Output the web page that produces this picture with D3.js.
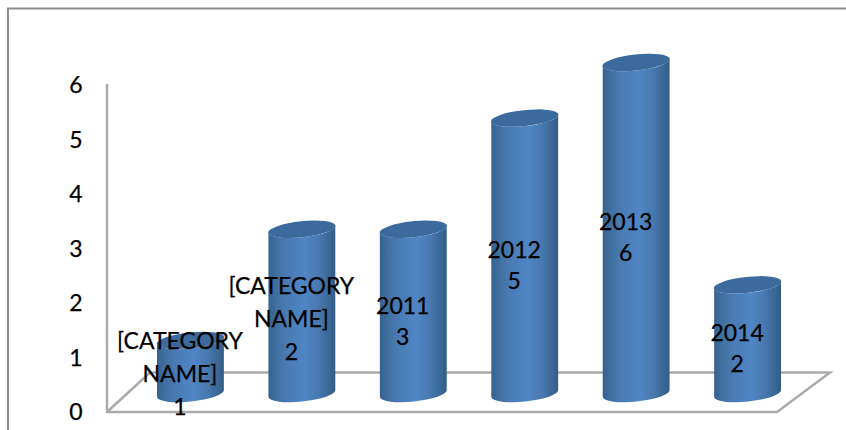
<!DOCTYPE html>
<html>
<head>
<meta charset="utf-8">
<script src="https://cdn.jsdelivr.net/npm/d3@7"></script>
<style>
  html, body { margin: 0; padding: 0; background: #fff; overflow: hidden; }
  text { font-family: Lato, "Open Sans", sans-serif; fill: #000; stroke: #000; stroke-width: 0.25px; }
</style>
</head>
<body>
<script>
const width = 846;
const height = 430;

const ticks = [0, 1, 2, 3, 4, 5, 6];
const slots = ["a", "b", "c", "d", "e", "f"];
// drawn height of each cylinder (second one stands at 3 though its label says 2)
const barValues = [1, 3, 3, 5, 6, 2];
const labelValues = [1, 2, 3, 5, 6, 2];
const labelNames = [["[CATEGORY", "NAME]"], ["[CATEGORY", "NAME]"], ["2011"], ["2012"], ["2013"], ["2014"]];

const svg = d3.select("body")
  .append("svg")
  .attr("width", width)
  .attr("height", height)
  .style("display", "block");

// picture frame, only top and left are in view
svg.append("path")
  .attr("d", "M8,430V8.5H846")
  .attr("fill", "none")
  .attr("stroke", "#8c8c8c")
  .attr("stroke-width", 2);

const yAxisScale = d3.scaleLinear().domain([0, 6]).range([412, 85]);
const yTop = d3.scaleLinear().domain([0, 6]).range([396, 62.5]);
const x = d3.scaleBand().domain(slots).range([157, 781]).paddingInner(0.4).paddingOuter(0);

const defs = svg.append("defs");
const grad = defs.append("linearGradient").attr("id", "body-grad");
grad.selectAll("stop")
  .data([[0, "#35618f"], [0.12, "#41709f"], [0.3, "#4a7cb5"], [0.55, "#5186c6"], [0.75, "#4878ae"], [0.92, "#3a6795"], [1, "#335c86"]])
  .enter()
  .append("stop")
  .attr("offset", d => d[0])
  .attr("stop-color", d => d[1]);

defs.append("filter").attr("id", "soft")
  .attr("x", "-10%").attr("y", "-10%").attr("width", "120%").attr("height", "120%")
  .append("feGaussianBlur").attr("stdDeviation", 0.6);

// floor
const floor = svg.append("g")
  .attr("fill", "none")
  .attr("stroke", "#ababab")
  .attr("stroke-width", 2.5);
floor.append("path").attr("d", "M107,84V412H777L830,372.5H150L107,412");

// tick labels
svg.append("g")
  .selectAll("text")
  .data(ticks)
  .enter()
  .append("text")
  .attr("x", 76)
  .attr("y", d => yAxisScale(d))
  .attr("dy", "0.35em")
  .attr("text-anchor", "middle")
  .attr("font-size", 23)
  .text(d => d);

const tilt = 3.5;
const rx = () => x.bandwidth() / 2;

const cylinders = svg.append("g")
  .selectAll("g")
  .data(barValues)
  .enter()
  .append("g")
  .attr("filter", "url(#soft)");

cylinders.append("path")
  .attr("fill", "url(#body-grad)")
  .attr("d", (d, i) => {
    const x0 = x(slots[i]);
    const x1 = x0 + x.bandwidth();
    const top = yTop(d);
    const bottom = yTop(0) - 2.5;
    return `M${x0},${top + tilt}A${rx()},8 -6 0 0 ${x1},${top - tilt}` +
      `V${bottom - tilt}A${rx()},8 -6 0 1 ${x0},${bottom + tilt}Z`;
  });

cylinders.append("ellipse")
  .attr("cx", 0)
  .attr("cy", 0)
  .attr("rx", () => rx() + 0.5)
  .attr("ry", 8)
  .attr("fill", "#3c6a9d")
  .attr("transform", (d, i) =>
    `translate(${x(slots[i]) + x.bandwidth() / 2},${yTop(d)}) rotate(-6)`);

// data labels sit a little left of centre, around the middle of the cylinder
const labels = svg.append("g")
  .selectAll("text")
  .data(barValues)
  .enter()
  .append("text")
  .attr("text-anchor", "middle")
  .attr("font-size", 23);

labels.each(function (d, i) {
  const lines = labelNames[i].concat(String(labelValues[i]));
  const wrapped = lines.length > 2;
  const lineGap = wrapped ? 33 : 31;
  const cx = x(slots[i]) + x.bandwidth() / 2 - 10.5;
  const midY = (yTop(d) + yTop(0)) / 2 + (wrapped ? 6 : 8.5);
  const startY = midY - (lines.length - 1) * lineGap / 2;
  d3.select(this).selectAll("tspan")
    .data(lines)
    .enter()
    .append("tspan")
    .attr("x", cx)
    .attr("y", (l, j) => startY + j * lineGap)
    .attr("dy", "0.35em")
    .text(l => l);
});
</script>
</body>
</html>
